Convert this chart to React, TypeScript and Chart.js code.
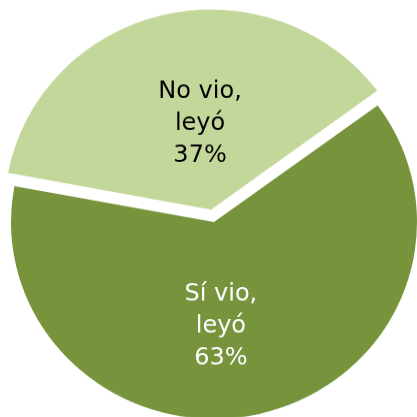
import React, { useEffect, useRef } from "react";
import { Chart, registerables } from "chart.js";

Chart.register(...registerables);

const categories = ["No vio, leyó", "Sí vio, leyó"];
const labelLines = [["No vio,", "leyó"], ["Sí vio,", "leyó"]];
const values = [37, 63];
const percentLabels = ["37%", "63%"];

const sliceColors = ["#C4D79B", "#77943D"];
const textColors = ["#000000", "#FFFFFF"];
const sliceShiftPx = [13, 0];
const labelRadiusFrac = [0.409, 0.564];
const labelAngleNudgeDeg = [5.25, 9.45];

// the reference pie is slightly squashed vertically
const VERTICAL_SCALE = 0.9704;
const CANVAS_W = 428;
const CANVAS_H = 458;

const labelPlugin = {
  id: "sliceLabels",
  afterDatasetsDraw(chart: any) {
    const ctx = chart.ctx;
    const meta = chart.getDatasetMeta(0);
    ctx.save();
    ctx.font = "24px 'DejaVu Sans'";
    ctx.textAlign = "center";
    ctx.textBaseline = "alphabetic";
    meta.data.forEach((arc: any, i: number) => {
      const p = arc.getProps(["x", "y", "startAngle", "endAngle", "outerRadius"], true);
      const mid = (p.startAngle + p.endAngle) / 2;
      const off = sliceShiftPx[i];
      const cx = p.x + Math.cos(mid) * off;
      const cy = p.y + Math.sin(mid) * off;
      const a = mid + (labelAngleNudgeDeg[i] * Math.PI) / 180;
      const r = p.outerRadius * labelRadiusFrac[i];
      const x = cx + Math.cos(a) * r;
      const y = cy + Math.sin(a) * r;
      const lines = [...labelLines[i], percentLabels[i]];
      const lh = 33;
      ctx.fillStyle = textColors[i];
      lines.forEach((ln, k) => {
        ctx.fillText(ln, x, y + (k - 1) * lh);
      });
    });
    ctx.restore();
  },
};

export default function App() {
  const ref = useRef<HTMLCanvasElement | null>(null);
  useEffect(() => {
    if (!ref.current) return;
    const chart = new Chart(ref.current, {
      type: "pie",
      data: {
        labels: categories,
        datasets: [
          {
            data: values,
            backgroundColor: sliceColors,
            borderWidth: 0,
            // Chart.js translates an arc by offset / 4
            offset: sliceShiftPx.map((o) => o * 4),
            hoverOffset: 0,
          },
        ],
      },
      options: {
        responsive: false,
        animation: false,
        rotation: -79.5,
        radius: 203,
        layout: { padding: 0 },
        events: [],
        plugins: {
          legend: { display: false },
          tooltip: { enabled: false },
        },
      },
      plugins: [labelPlugin],
    });
    return () => chart.destroy();
  }, []);
  return (
    <div
      style={{
        position: "fixed",
        left: 0,
        top: 0,
        width: 417,
        height: 417,
        overflow: "hidden",
        background: "#FFFFFF",
      }}
    >
      <canvas
        ref={ref}
        width={CANVAS_W}
        height={CANVAS_H}
        style={{
          position: "absolute",
          left: 0,
          top: 0,
          width: CANVAS_W,
          height: CANVAS_H * VERTICAL_SCALE,
        }}
      />
    </div>
  );
}
